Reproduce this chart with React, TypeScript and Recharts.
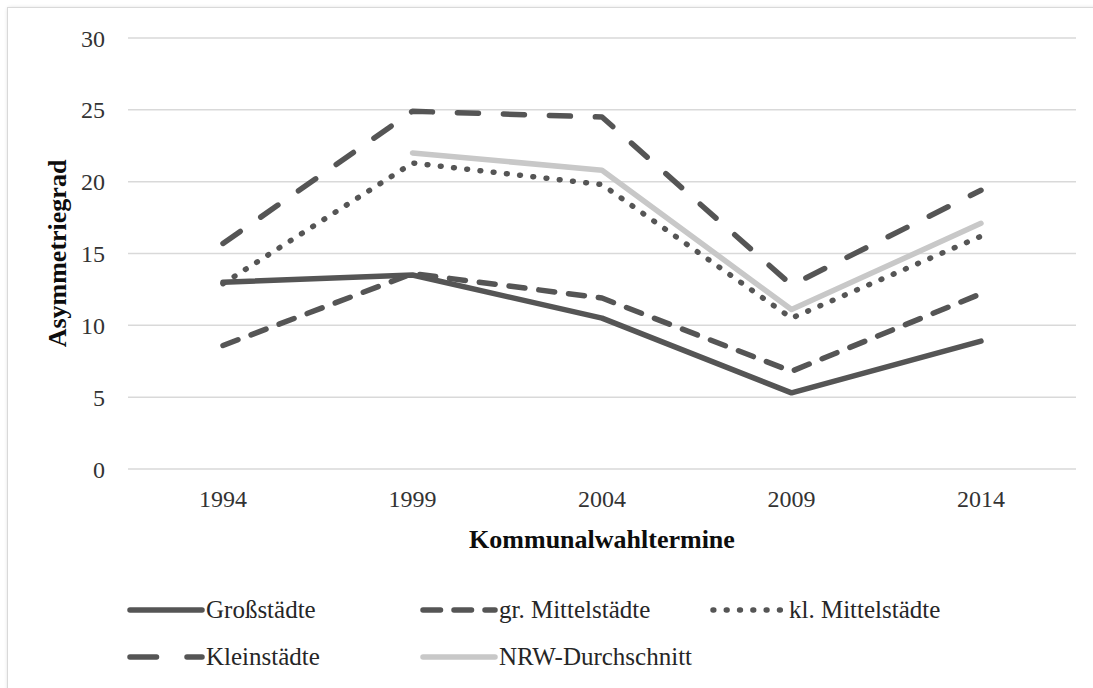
import React from 'react';
import { LineChart, Line, XAxis, YAxis, CartesianGrid, Legend } from 'recharts';

const years = ['1994', '1999', '2004', '2009', '2014'];
const grossstaedte = [13.0, 13.5, 10.5, 5.3, 8.9];
const grMittelstaedte = [8.6, 13.6, 11.9, 6.8, 12.2];
const klMittelstaedte = [12.9, 21.3, 19.8, 10.5, 16.2];
const kleinstaedte = [15.7, 24.9, 24.5, 12.8, 19.4];
const nrwDurchschnitt: (number | null)[] = [null, 22.0, 20.8, 11.1, 17.1];
const yTicks = [0, 5, 10, 15, 20, 25, 30];

const data = years.map((y, i) => ({
  year: y,
  gross: grossstaedte[i],
  grMittel: grMittelstaedte[i],
  klMittel: klMittelstaedte[i],
  klein: kleinstaedte[i],
  nrw: nrwDurchschnitt[i],
}));

const DARK = '#555555';
const LIGHT = '#c8c8c8';
const FONT = '"Liberation Serif", "DejaVu Serif", serif';

const series = [
  { key: 'gross', name: 'Großstädte', color: DARK, dash: undefined as string | undefined, legendDash: undefined as string | undefined },
  { key: 'grMittel', name: 'gr. Mittelstädte', color: DARK, dash: '16 14', legendDash: '17.5 13.5' },
  { key: 'klMittel', name: 'kl. Mittelstädte', color: DARK, dash: '0.8 12.5', legendDash: '0.8 12.5' },
  { key: 'klein', name: 'Kleinstädte', color: DARK, dash: '21 25', legendDash: '26.5 30.5' },
  { key: 'nrw', name: 'NRW-Durchschnitt', color: LIGHT, dash: undefined as string | undefined, legendDash: undefined as string | undefined },
];

const colLeft = [119, 412, 702];

const renderLegend = () => (
  <div style={{ position: 'relative', width: 1080, height: 100 }}>
    {series.map((s, i) => {
      const col = i % 3;
      const row = Math.floor(i / 3);
      return (
        <div
          key={s.key}
          style={{
            position: 'absolute',
            left: colLeft[col],
            top: row * 47,
            display: 'flex',
            alignItems: 'center',
            height: 30,
            fontFamily: FONT,
            fontSize: 25,
            color: '#262626',
            whiteSpace: 'nowrap',
          }}
        >
          <svg width={78} height={12} style={{ display: 'block' }}>
            <line
              x1={3}
              y1={6}
              x2={75}
              y2={6}
              stroke={s.color}
              strokeWidth={5.5}
              strokeLinecap="round"
              strokeDasharray={s.legendDash}
            />
          </svg>
          <span style={{ marginLeft: 1 }}>{s.name}</span>
        </div>
      );
    })}
  </div>
);

const YLabel = (props: any) => {
  const vb = props.viewBox || {};
  const cx = vb.x + 49;
  const cy = vb.y + vb.height / 2;
  return (
    <text
      x={cx}
      y={cy}
      transform={`rotate(-90, ${cx}, ${cy})`}
      textAnchor="middle"
      dominantBaseline="central"
      fontFamily={FONT}
      fontSize={26}
      fontWeight="bold"
      fill="#0d0d0d"
    >
      Asymmetriegrad
    </text>
  );
};

const XLabel = (props: any) => {
  const vb = props.viewBox || {};
  const cx = vb.x + vb.width / 2;
  return (
    <text
      x={cx}
      y={vb.y + 79}
      textAnchor="middle"
      fontFamily={FONT}
      fontSize={26}
      fontWeight="bold"
      fill="#0d0d0d"
    >
      Kommunalwahltermine
    </text>
  );
};

export default function App() {
  return (
    <div
      style={{
        position: 'absolute',
        left: 7,
        top: 7,
        width: 1090,
        height: 690,
        border: '1px solid #d9d9d9',
        boxShadow: '1px 1px 4px rgba(0,0,0,0.18)',
        background: '#fff',
      }}
    >
      <LineChart
        width={1085}
        height={680}
        data={data}
        margin={{ top: 30, right: 17, left: 0, bottom: 129 }}
      >
        <CartesianGrid vertical={false} stroke="#d9d9d9" strokeWidth={1.5} />
        <XAxis
          dataKey="year"
          padding={{ left: 95, right: 95 }}
          axisLine={false}
          tickLine={false}
          tickSize={0}
          tickMargin={21}
          height={90}
          tick={{ fontFamily: FONT, fontSize: 24, fill: '#333' }}
          label={<XLabel />}
          interval={0}
        />
        <YAxis
          width={120}
          domain={[0, 30]}
          ticks={yTicks}
          axisLine={false}
          tickLine={false}
          tickSize={0}
          tickMargin={23}
          tick={{ fontFamily: FONT, fontSize: 24, fill: '#333' }}
          label={<YLabel />}
          interval={0}
        />
        <Legend
          layout="horizontal"
          verticalAlign="middle"
          align="center"
          wrapperStyle={{ position: 'absolute', left: 0, top: 587, width: 1080 }}
          content={renderLegend}
        />
        {series.map((s) => (
          <Line
            key={s.key}
            dataKey={s.key}
            name={s.name}
            stroke={s.color}
            strokeWidth={5.5}
            strokeDasharray={s.dash}
            strokeLinecap="round"
            strokeLinejoin="round"
            dot={false}
            activeDot={false}
            isAnimationActive={false}
            connectNulls={false}
          />
        ))}
      </LineChart>
    </div>
  );
}
